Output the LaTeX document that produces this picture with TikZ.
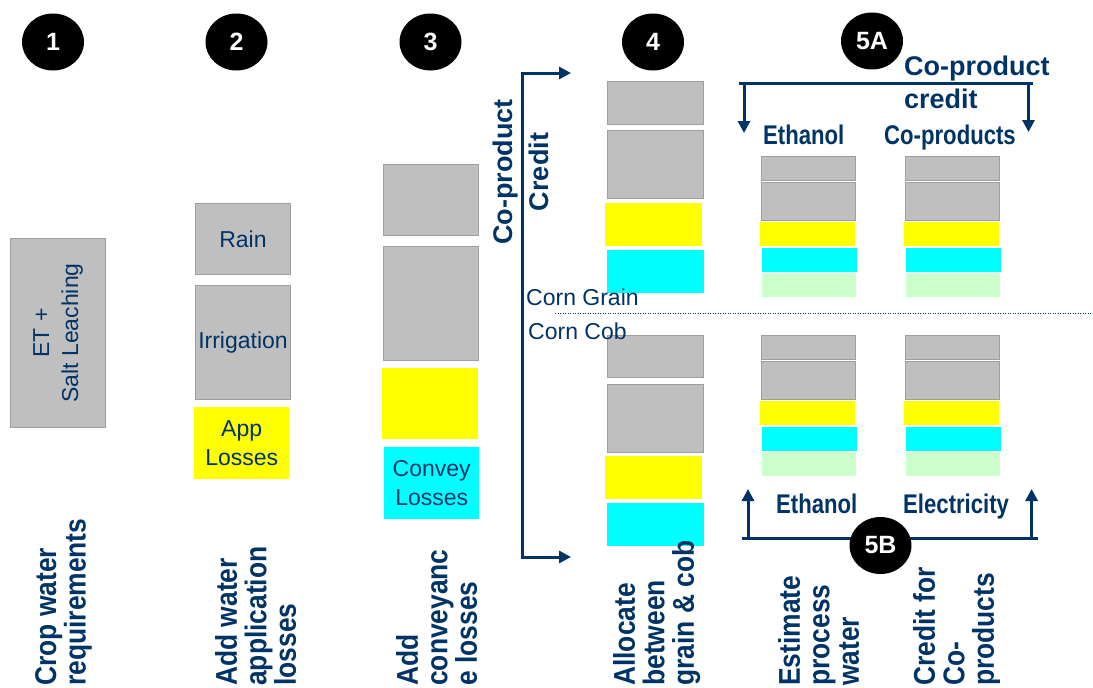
\documentclass[tikz,border=0pt]{standalone}
\usepackage{fontspec}
\setmainfont{Liberation Sans}
\newfontfamily\narrowfont{Liberation Sans}[FakeStretch=0.82]
\newfontfamily\labelfont{Liberation Sans}[FakeStretch=0.88]
\usetikzlibrary{shapes.geometric,arrows.meta}
\definecolor{navy}{RGB}{0,51,102}
\definecolor{boxgray}{RGB}{191,191,191}
\definecolor{boxline}{RGB}{158,158,158}
\definecolor{palegreen}{RGB}{204,255,204}
\definecolor{lossyellow}{RGB}{255,255,0}
\definecolor{lossaqua}{RGB}{0,255,255}
\tikzset{
  blk/.style={inner sep=0pt, anchor=north west},
  gbox/.style={blk, draw=boxline, fill=boxgray, line width=1pt},
  ybox/.style={blk, fill=lossyellow},
  cbox/.style={blk, fill=lossaqua},
  lbox/.style={blk, fill=palegreen},
  stepnum/.style={ellipse, fill=black, text=white, minimum width=62pt, minimum height=57pt,
    inner sep=0pt, font=\bfseries\fontsize{25}{25}\selectfont},
  boxtext/.style={text=navy, align=center, font=\fontsize{23}{29}\selectfont},
  steplabel/.style={rotate=90, anchor=north west, inner sep=0pt, align=left, text=navy,
    font=\labelfont\bfseries\fontsize{30}{29.5}\selectfont},
  headtext/.style={text=navy, inner sep=0pt, anchor=base west,
    font=\narrowfont\bfseries\fontsize{27}{33}\selectfont},
  credittext/.style={text=navy, inner sep=0pt, font=\bfseries\fontsize{27}{33}\selectfont},
  corntext/.style={text=navy, inner sep=0pt, anchor=base west, font=\fontsize{23}{23}\selectfont},
  brkt/.style={navy, line width=3pt},
  arr/.style={-{Triangle[length=12pt,width=12pt]}}
}
\begin{document}
\begin{tikzpicture}[x=1pt,y=-1pt]
\useasboundingbox (0,0) rectangle (1093,688);
% step 1
\node[gbox, minimum width=95pt, minimum height=189pt] (et) at (10,238) {};
\node[boxtext, rotate=90] (ettxt) at (et.center) {ET +\\Salt Leaching};
% step 2
\node[gbox, boxtext, minimum width=95pt, minimum height=71pt] (rain) at (195,203) {Rain};
\node[gbox, boxtext, minimum width=95pt, minimum height=114pt] (irrig) at (195,285) {Irrigation};
\node[ybox, boxtext, minimum width=95pt, minimum height=72pt] (app) at (194,407) {App\\Losses};
% step 3
\node[gbox, minimum width=95pt, minimum height=71pt] (c3a) at (383,164) {};
\node[gbox, minimum width=95pt, minimum height=114pt] (c3b) at (383,246) {};
\node[ybox, minimum width=96pt, minimum height=71pt] (c3c) at (382,368) {};
\node[cbox, boxtext, minimum width=95pt, minimum height=72pt] (convey) at (384,447) {Convey\\Losses};
% step 4, grain and cob
\node[gbox, minimum width=96pt, minimum height=43pt] (g1) at (607,81) {};
\node[gbox, minimum width=96pt, minimum height=68pt] (g2) at (607,130) {};
\node[ybox, minimum width=97pt, minimum height=43pt] (g3) at (605,203) {};
\node[cbox, minimum width=97pt, minimum height=43pt] (g4) at (607,250) {};
\node[gbox, minimum width=96pt, minimum height=42pt] (k1) at (607,335) {};
\node[gbox, minimum width=96pt, minimum height=68pt] (k2) at (607,384) {};
\node[ybox, minimum width=97pt, minimum height=43pt] (k3) at (605,456) {};
\node[cbox, minimum width=97pt, minimum height=43pt] (k4) at (607,503) {};
% step 5, ethanol and co-product stacks
\foreach \c/\x in {e/761,p/905}{
  \foreach \s/\y in {u/156,l/335}{
    \node[gbox, minimum width=94pt, minimum height=24pt] (\c\s1) at (\x,\y) {};
    \node[gbox, minimum width=94pt, minimum height=38pt] (\c\s2) at (\x,\y+26) {};
    \node[ybox, minimum width=95pt, minimum height=24pt] (\c\s3) at (\x-1,\y+66) {};
    \node[cbox, minimum width=95pt, minimum height=24pt] (\c\s4) at (\x+1,\y+92) {};
    \node[lbox, minimum width=94pt, minimum height=24pt] (\c\s5) at (\x+1,\y+117) {};
  }
}
% grain / cob divider
\coordinate (d1) at (555,313);
\coordinate (d2) at (1093,313);
\draw[navy, line width=0.7pt, dash pattern=on 1pt off 1.5pt] (d1) -- (d2);
\node[corntext] (grain) at (526,305) {Corn Grain};
\node[corntext] (cob) at (528,339) {Corn Cob};
% left bracket
\coordinate (l1) at (571,73);
\coordinate (l2) at (522,73);
\coordinate (l3) at (522,557);
\coordinate (l4) at (571,557);
\draw[brkt, {Triangle[length=12pt,width=12pt]}-{Triangle[length=12pt,width=12pt]}] (l1) -- (l2) -- (l3) -- (l4);
\node[credittext, rotate=90, align=center, anchor=north, font=\bfseries\fontsize{27}{36}\selectfont] (cpcred) at (493,172) {Co-product\\Credit};
% 5A bracket
\coordinate (a1) at (739,83);
\coordinate (a2) at (1033,83);
\coordinate (a3) at (744,83);
\coordinate (a4) at (744,133);
\coordinate (a5) at (1028.5,83);
\coordinate (a6) at (1028.5,132);
\draw[brkt] (a1) -- (a2);
\draw[brkt, arr] (a3) -- (a4);
\draw[brkt, arr] (a5) -- (a6);
\node[credittext, anchor=north west, align=left] (cpc) at (904,56) {Co-product\\credit};
\node[headtext] (eth1) at (763,144) {Ethanol};
\node[headtext] (cop) at (884,144) {Co-products};
% 5B bracket
\coordinate (b1) at (742,538);
\coordinate (b2) at (1038,538);
\coordinate (b3) at (748,538);
\coordinate (b4) at (748,489);
\coordinate (b5) at (1031.6,538);
\coordinate (b6) at (1031.6,489);
\draw[brkt] (b1) -- (b2);
\draw[brkt, arr] (b3) -- (b4);
\draw[brkt, arr] (b5) -- (b6);
\node[headtext] (eth2) at (776,513) {Ethanol};
\node[headtext] (elec) at (903,513) {Electricity};
% step numbers
\node[stepnum] (n1) at (53,42) {1};
\node[stepnum] (n2) at (236.5,42) {2};
\node[stepnum] (n3) at (430.5,42) {3};
\node[stepnum] (n4) at (653,42) {4};
\node[stepnum] (n5a) at (872,41) {5A};
\node[stepnum] (n5b) at (880.5,545.5) {5B};
% step labels
\node[steplabel] (lab1) at (35,686) {Crop water\\requirements};
\node[steplabel] (lab2) at (215,686) {Add water\\application\\losses};
\node[steplabel] (lab3) at (396,686) {Add\\conveyanc\\e losses};
\node[steplabel] (lab4) at (613,686) {Allocate\\between\\grain \& cob};
\node[steplabel] (lab5) at (778,686) {Estimate\\process\\water};
\node[steplabel] (lab6) at (913,686) {Credit for\\Co-\\products};
\end{tikzpicture}
\end{document}
